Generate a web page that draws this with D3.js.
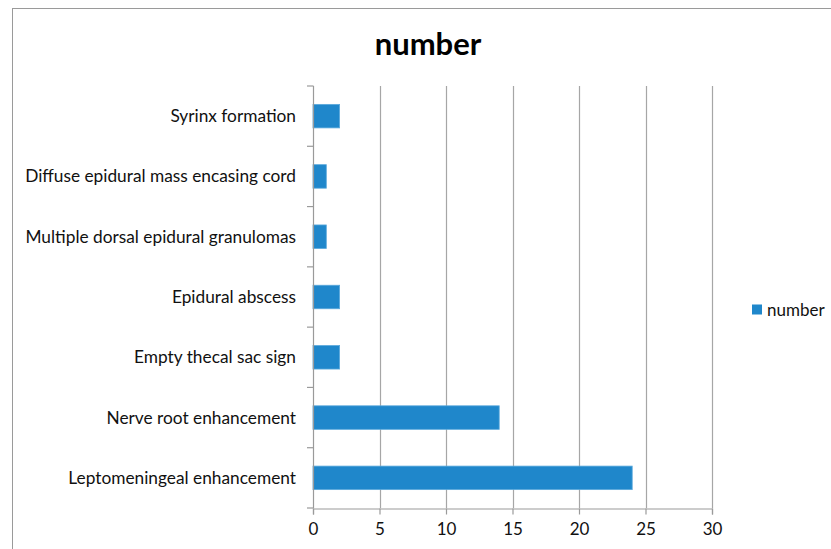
<!DOCTYPE html>
<html><head><meta charset="utf-8">
<script src="https://cdn.jsdelivr.net/npm/d3@7"></script>
<style>body{margin:0;background:#fff}svg{display:block}</style>
</head><body>
<svg id="c" width="831" height="549"></svg>
<script>
const categories = ["Syrinx formation","Diffuse epidural mass encasing cord","Multiple dorsal epidural granulomas","Epidural abscess","Empty thecal sac sign","Nerve root enhancement","Leptomeningeal enhancement"];
const values = [2,1,1,2,2,14,24];
const xTicks = [0,5,10,15,20,25,30];
const seriesName = "number";
const titleText = "number";

const svg = d3.select("#c");
const font = "Lato, 'Open Sans', sans-serif";
svg.append("rect").attr("x",12.5).attr("y",8.5).attr("width",840).attr("height",560)
  .attr("fill","#fff").attr("stroke","#9a9a9a");

const x = d3.scaleLinear().domain([0,30]).range([313,712]);
const y = d3.scaleBand().domain(categories).range([86,508]).paddingInner(0.61).paddingOuter(0.305);

// gridlines
svg.append("g").selectAll("line").data(xTicks.slice(1)).join("line")
  .attr("x1",d=>Math.round(x(d))+0.5).attr("x2",d=>Math.round(x(d))+0.5)
  .attr("y1",86).attr("y2",508).attr("stroke","#a6a6a6").attr("stroke-width",1.2);

// bars
svg.append("g").selectAll("rect").data(values).join("rect")
  .attr("x",x(0)).attr("y",(d,i)=>y(categories[i]))
  .attr("width",d=>x(d)-x(0)).attr("height",y.bandwidth())
  .attr("fill","#1f87cb").attr("stroke","#5aa9dc").attr("stroke-width",0.8);

// x axis
const xa = svg.append("g").attr("transform","translate(0,508.5)")
  .call(d3.axisBottom(x).tickValues(xTicks).tickSize(6).tickPadding(8));
xa.select(".domain").attr("stroke","#9a9a9a").attr("stroke-width",1.2);
xa.selectAll(".tick line").attr("stroke","#9a9a9a").attr("stroke-width",1.2);
xa.selectAll("text").attr("font-family",font).attr("font-size",17).attr("fill","#111");

// y axis line + ticks at band boundaries
const bounds = d3.range(categories.length+1).map(i=>86+i*(422/categories.length));
svg.append("line").attr("x1",313.5).attr("x2",313.5).attr("y1",86).attr("y2",508)
  .attr("stroke","#9a9a9a").attr("stroke-width",1.2);
svg.append("g").selectAll("line").data(bounds).join("line")
  .attr("x1",307).attr("x2",313.5).attr("y1",d=>d).attr("y2",d=>d)
  .attr("stroke","#9a9a9a").attr("stroke-width",1.2);
svg.append("g").selectAll("text").data(categories).join("text")
  .attr("x",296).attr("y",d=>y(d)+y.bandwidth()/2).attr("dy","0.35em")
  .attr("text-anchor","end").attr("font-family",font).attr("font-size",17.3).attr("fill","#111")
  .text(d=>d);

// title
svg.append("text").attr("x",428).attr("y",55).attr("text-anchor","middle")
  .attr("font-family",font).attr("font-weight","bold").attr("font-size",31).attr("fill","#000")
  .text(titleText);

// legend
svg.append("rect").attr("x",752).attr("y",304.5).attr("width",10).attr("height",10).attr("fill","#1f87cb");
svg.append("text").attr("x",767).attr("y",310).attr("dy","0.35em")
  .attr("font-family",font).attr("font-size",17).attr("fill","#111").text(seriesName);
</script>
</body></html>
